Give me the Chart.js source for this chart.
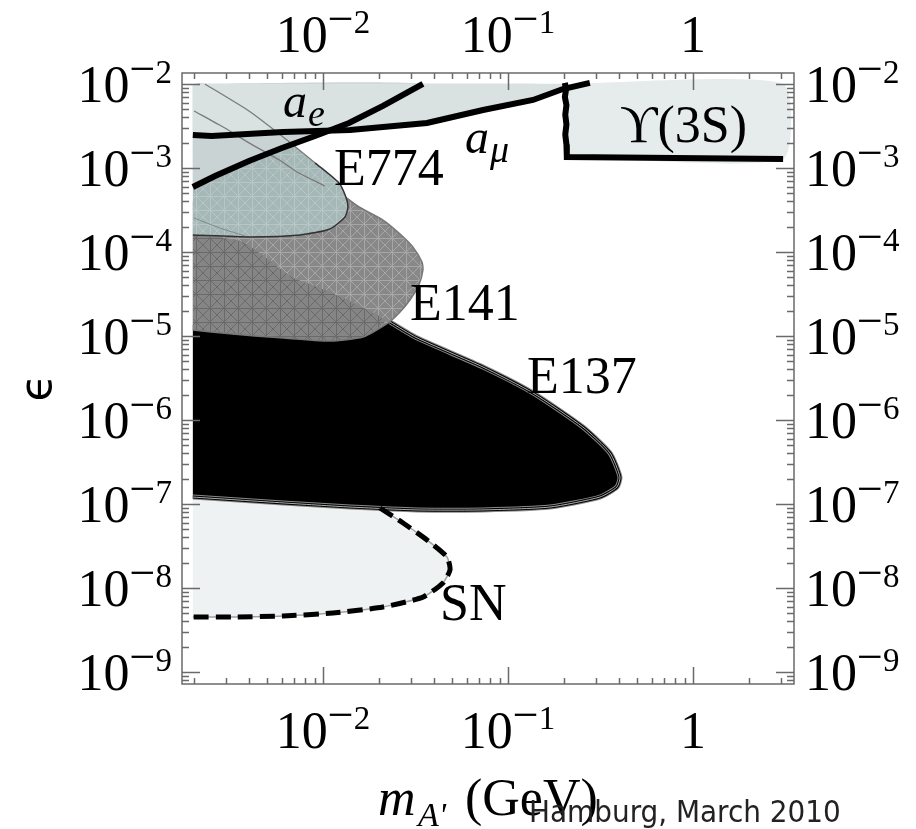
<!DOCTYPE html>
<html>
<head>
<meta charset="utf-8">
<script src="https://cdn.jsdelivr.net/npm/chart.js@4.4.1/dist/chart.umd.min.js"></script>
<style>
  html, body { margin: 0; padding: 0; background: #fff; }
  #wrap { width: 916px; height: 829px; }
</style>
</head>
<body>
<div id="wrap"><canvas id="plot" width="916" height="829"></canvas></div>
<script>
// plot window: dark photon mass (GeV) vs kinetic mixing epsilon
const massRange = [0.00173, 3.515];
const epsRange = [7.2e-10, 1.35e-2];
const massDecades = [-2, -1, 0];
const epsDecades = [-9, -8, -7, -6, -5, -4, -3, -2];

// boundaries as [mass, epsilon]
const aeLine = [[0.00198, 5.94e-4], [0.00261, 8.03e-4], [0.00398, 1.21e-3], [0.0060, 1.73e-3],
  [0.00906, 2.40e-3], [0.01383, 3.43e-3], [0.0211, 5.47e-3], [0.0347, 1.0e-2]];
const amuLine = [[0.00198, 2.47e-3], [0.0025, 2.4e-3], [0.00608, 2.68e-3], [0.0140, 2.83e-3],
  [0.0365, 3.43e-3], [0.0733, 4.9e-3], [0.1365, 6.45e-3], [0.198, 8.7e-3], [0.277, 1.03e-2]];
const upsilonLine = [[0.203, 1.03e-2], [0.206, 8.6e-3], [0.203, 7.0e-3], [0.207, 5.6e-3], [0.204, 4.3e-3],
  [0.207, 3.3e-3], [0.204, 2.5e-3], [0.207, 1.9e-3], [0.208, 1.35e-3], [3.07, 1.28e-3]];
const upsilonRegion = [[0.205, 1.0e-2], [3.07, 1.0e-2], [3.07, 1.28e-3], [0.208, 1.35e-3]];
const e774Edge = [[0.0023, 1.0e-2], [0.00398, 4.77e-3], [0.0060, 2.4e-3], [0.00906, 1.15e-3],
  [0.0122, 6.63e-4], [0.0133, 4.52e-4], [0.01365, 3.43e-4], [0.01315, 2.61e-4], [0.0109, 1.88e-4],
  [0.00751, 1.59e-4], [0.00403, 1.51e-4], [0.00198, 1.59e-4]];
const aeInner = [[0.00201, 4.77e-3], [0.00295, 2.99e-3], [0.00398, 1.99e-3], [0.00578, 1.25e-3],
  [0.00742, 8.7e-4], [0.01025, 6.1e-4]];
const e774Inner = [[0.00201, 2.54e-4], [0.00277, 1.93e-4], [0.00379, 1.55e-4]];
const e141Edge = [[0.00198, 4.0e-4], [0.01315, 4.52e-4], [0.01566, 3.43e-4], [0.0211, 2.40e-4],
  [0.02575, 1.68e-4], [0.0306, 1.15e-4], [0.0343, 7.6e-5], [0.0347, 6.1e-5], [0.0330, 4.05e-5],
  [0.0295, 2.68e-5], [0.0261, 1.93e-5], [0.0225, 1.43e-5], [0.01645, 9.7e-6], [0.0109, 8.7e-6],
  [0.00586, 9.5e-6], [0.00314, 1.06e-5], [0.00198, 1.18e-5]];
const e141Core = [[0.00198, 1.59e-4], [0.00365, 1.32e-4], [0.0068, 5.04e-5], [0.01025, 3.53e-5],
  [0.01625, 2.21e-5], [0.02163, 1.51e-5], [0.01645, 9.7e-6], [0.0109, 8.7e-6], [0.00586, 9.5e-6],
  [0.00314, 1.06e-5], [0.00198, 1.18e-5]];
const e137Edge = [[0.00198, 1.35e-5], [0.0100, 1.45e-5], [0.0230, 1.47e-5], [0.0322, 9.5e-6],
  [0.0733, 4.27e-6], [0.1365, 2.1e-6], [0.254, 8.26e-7], [0.356, 4.05e-7], [0.403, 2.1e-7],
  [0.388, 1.59e-7], [0.314, 1.21e-7], [0.1687, 9.2e-8], [0.0733, 8.5e-8], [0.0322, 8.5e-8],
  [0.0140, 9.2e-8], [0.00608, 1.03e-7], [0.00198, 1.21e-7]];
const snEdge = [[0.0203, 8.96e-8], [0.0271, 5.94e-8], [0.0365, 3.73e-8], [0.0468, 2.34e-8],
  [0.0486, 1.64e-8], [0.0445, 1.15e-8], [0.0347, 7.8e-9], [0.0211, 5.94e-9], [0.01133, 5.04e-9],
  [0.00608, 4.64e-9], [0.00326, 4.51e-9], [0.00198, 4.51e-9]];

// region labels: text, [mass, epsilon] of the left baseline
const regionLabels = [
  ['E774', [0.01146, 6.28e-4]],
  ['E141', [0.0295, 1.55e-5]],
  ['E137', [0.1267, 2.1e-6]],
  ['SN', [0.0429, 4.16e-9]],
  ['\u03D2(3S)', [0.403, 2.04e-3]]
];
const coupLabels = [
  ['a', 'e', [0.00608, 4.05e-3]],
  ['a', '\u03BC', [0.0586, 1.51e-3]]
];

const pts = arr => arr.map(([x, y]) => ({ x, y }));

function hatch(base, line, size) {
  const c = document.createElement('canvas');
  c.width = c.height = size;
  const g = c.getContext('2d');
  g.fillStyle = base;
  g.fillRect(0, 0, size, size);
  g.strokeStyle = line;
  g.lineWidth = 1;
  g.beginPath();
  g.moveTo(0, 0.5); g.lineTo(size, 0.5);
  g.moveTo(0.5, 0); g.lineTo(0.5, size);
  g.moveTo(0, 0); g.lineTo(size, size);
  g.moveTo(size, 0); g.lineTo(0, size);
  g.stroke();
  return g.createPattern(c, 'repeat');
}

const e774Pattern = hatch('#a5b7b6', '#b7c7c6', 14);
const e141Light = hatch('#888888', '#a6a6a6', 14);
const e141Dark = hatch('#858585', '#6a6a6a', 14);

function region(data, color) {
  return { data: pts(data), backgroundColor: color, borderColor: 'rgba(0,0,0,0)', borderWidth: 0,
    fill: 'shape', tension: 0.2 };
}
function curve(data, color, width, extra) {
  return Object.assign({ data: pts(data), borderColor: color, borderWidth: width, fill: false, tension: 0.2 }, extra || {});
}

const snRegion = [[0.00198, 1.25e-7], [0.0140, 9.2e-8]].concat(snEdge);
const e774Region = [[0.00198, 1.0e-2]].concat(e774Edge);
const aeRegion = aeLine.concat([[0.00198, 1.0e-2]]);
const amuRegion = amuLine.slice(0, 8).concat([[0.208, 9.0e-3], [0.208, 1.0e-2], [0.00198, 1.0e-2]]);

// listed bottom layer first
const datasets = [
  region(snRegion, '#eff2f2'),
  region(e137Edge, '#000000'),
  curve(e137Edge.slice(2), '#8a8a8a', 5),
  curve(e137Edge.slice(2), '#000000', 3),
  curve(e137Edge.slice(2), '#b0b0b0', 1),
  region(e141Edge, e141Light),
  region(e141Core, e141Dark),
  curve(e141Edge.slice(1), '#777777', 1.5),
  region(e774Region, e774Pattern),
  curve(e774Edge.slice(3), '#333333', 1.5),
  curve(e774Inner, '#7d8b8b', 1),
  region(aeRegion, '#c9d3d3'),
  region(amuRegion, '#d9e1e1'),
  region(upsilonRegion, '#e6ebeb'),
  curve(e774Edge.slice(0, 4), '#7a7a7a', 1.3),
  curve(aeInner, '#7a7a7a', 1.3),
  curve(snEdge, '#a0a0a0', 1.5),
  curve(snEdge, '#000000', 5, { borderDash: [15, 7] }),
  curve(aeLine, '#000000', 6, { tension: 0 }),
  curve(amuLine, '#000000', 6, { tension: 0 }),
  curve(upsilonLine, '#000000', 6, { tension: 0 })
];
// Chart.js paints lower order on top, so give earlier entries the higher order
datasets.forEach((d, i) => { d.pointRadius = 0; d.order = datasets.length - i; });

const serif = '"Liberation Serif", "Times New Roman", serif';

// "10" with a raised exponent, anchored by align at (x, baseline)
function powerLabel(ctx, x, y, exp, align) {
  const base = exp === 0 ? '1' : '10';
  ctx.font = '52px ' + serif;
  const wb = ctx.measureText(base).width;
  let wm = 0, wd = 0;
  if (exp !== 0) {
    ctx.font = '46px ' + serif;
    wm = ctx.measureText('\u2212').width;
    ctx.font = '33px ' + serif;
    wd = ctx.measureText(String(Math.abs(exp))).width;
  }
  const w = wb + wm + wd;
  let x0 = x;
  if (align === 'right') x0 = x - w;
  else if (align === 'center') x0 = x - w / 2;
  ctx.textAlign = 'left';
  ctx.textBaseline = 'alphabetic';
  ctx.font = '52px ' + serif;
  ctx.fillText(base, x0, y);
  if (exp !== 0) {
    ctx.font = '46px ' + serif;
    ctx.fillText('\u2212', x0 + wb, y - 18);
    ctx.font = '33px ' + serif;
    ctx.fillText(String(Math.abs(exp)), x0 + wb + wm, y - 19);
  }
}

const frameAndText = {
  id: 'frameAndText',
  afterDraw(chart) {
    const { ctx, chartArea: a, scales: { x, y } } = chart;
    ctx.save();
    // frame
    ctx.strokeStyle = '#6a6a6a';
    ctx.lineWidth = 1.5;
    ctx.strokeRect(a.left, a.top, a.right - a.left, a.bottom - a.top);
    // ticks pointing inward on all four sides
    ctx.beginPath();
    for (let k = -3; k <= 0; k++) {
      for (let m = 1; m <= 9; m++) {
        const v = m * Math.pow(10, k);
        if (v < massRange[0] || v > massRange[1]) continue;
        const px = Math.round(x.getPixelForValue(v)) + 0.5;
        const len = m === 1 ? 17 : 6;
        ctx.moveTo(px, a.bottom); ctx.lineTo(px, a.bottom - len);
        ctx.moveTo(px, a.top); ctx.lineTo(px, a.top + len);
      }
    }
    for (let k = -10; k <= -2; k++) {
      for (let m = 1; m <= 9; m++) {
        const v = m * Math.pow(10, k);
        if (v < epsRange[0] || v > epsRange[1]) continue;
        const py = Math.round(y.getPixelForValue(v)) + 0.5;
        const len = m === 1 ? 18 : 7;
        ctx.moveTo(a.left, py); ctx.lineTo(a.left + len, py);
        ctx.moveTo(a.right, py); ctx.lineTo(a.right - len, py);
      }
    }
    ctx.stroke();

    // tick labels
    ctx.fillStyle = '#000';
    massDecades.forEach(k => {
      const px = x.getPixelForValue(Math.pow(10, k));
      powerLabel(ctx, px, 52, k, 'center');
      powerLabel(ctx, px, 748, k, 'center');
    });
    epsDecades.forEach(k => {
      const py = y.getPixelForValue(Math.pow(10, k));
      powerLabel(ctx, a.left - 10, py + 18, k, 'right');
      powerLabel(ctx, a.right + 11, py + 18, k, 'left');
    });

    // region names
    ctx.textAlign = 'left';
    ctx.font = '52px ' + serif;
    regionLabels.forEach(([t, [m, e]]) => {
      ctx.fillText(t, x.getPixelForValue(m), y.getPixelForValue(e));
    });
    coupLabels.forEach(([t, sub, [m, e]]) => {
      const px = x.getPixelForValue(m), py = y.getPixelForValue(e);
      ctx.font = 'italic 48px ' + serif;
      ctx.fillText(t, px, py);
      const w = ctx.measureText(t).width;
      ctx.font = 'italic 38px ' + serif;
      ctx.fillText(sub, px + w + 1, py + 9);
    });

    // axis titles
    ctx.font = 'italic 52px ' + serif;
    ctx.fillText('m', 378, 815);
    ctx.font = 'italic 34px ' + serif;
    ctx.fillText("A'", 418, 826);
    ctx.font = '52px ' + serif;
    ctx.fillText('(GeV)', 465, 815);
    ctx.save();
    ctx.translate(40, 388);
    ctx.rotate(-Math.PI / 2);
    ctx.font = '44px "DejaVu Sans", sans-serif';
    ctx.textAlign = 'center';
    ctx.textBaseline = 'middle';
    ctx.fillText('\u03F5', 0, 0);
    ctx.restore();

    // footer
    ctx.fillStyle = '#222';
    ctx.font = '31px "DejaVu Sans Condensed", "DejaVu Sans", sans-serif';
    ctx.fillText('Hamburg, March 2010', 529, 822);
    ctx.restore();
  }
};

new Chart(document.getElementById('plot'), {
  type: 'line',
  data: { datasets },
  options: {
    responsive: false,
    animation: false,
    events: [],
    layout: { padding: { left: 182, right: 122, top: 73, bottom: 145 } },
    plugins: { legend: { display: false }, tooltip: { enabled: false } },
    scales: {
      x: { type: 'logarithmic', min: massRange[0], max: massRange[1], bounds: 'data', display: false },
      y: { type: 'logarithmic', min: epsRange[0], max: epsRange[1], bounds: 'data', display: false }
    }
  },
  plugins: [frameAndText]
});
</script>
</body>
</html>
